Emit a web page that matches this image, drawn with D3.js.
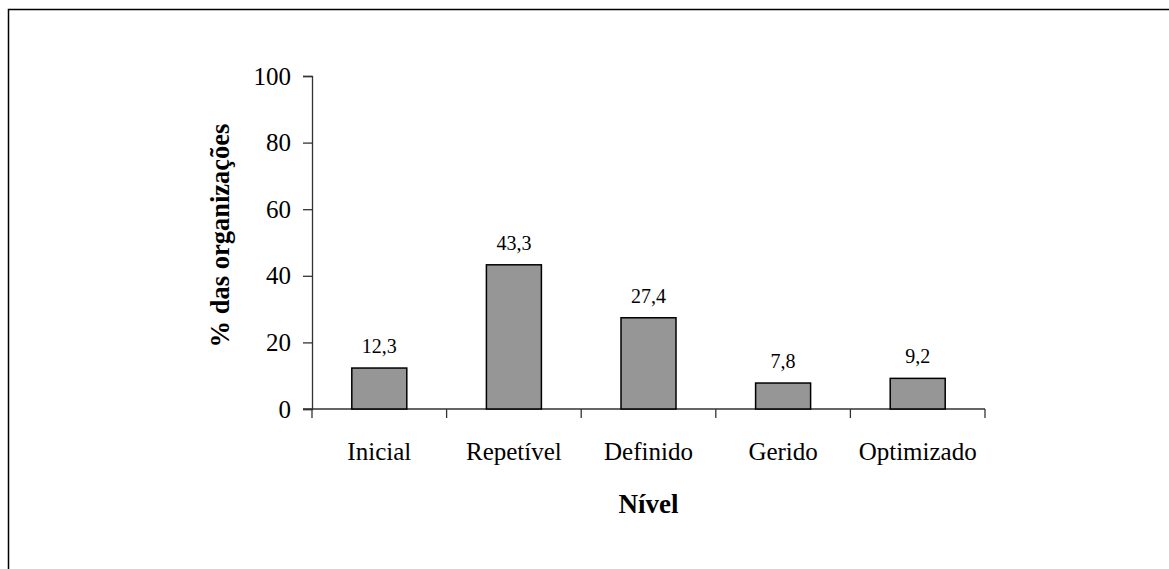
<!DOCTYPE html>
<html>
<head>
<meta charset="utf-8">
<script src="https://cdn.jsdelivr.net/npm/d3@7"></script>
<style>
  body { margin: 0; background: #fff; }
  svg text { font-family: "Liberation Serif", "Times New Roman", serif; fill: #000; }
</style>
</head>
<body>
<svg id="chart" width="1169" height="569"></svg>
<script>
// data
var niveis = ["Inicial", "Repetível", "Definido", "Gerido", "Optimizado"];
var percentagens = [12.3, 43.3, 27.4, 7.8, 9.2];
var yTicks = [0, 20, 40, 60, 80, 100];

var chartDim = {left: 312, right: 985, top: 76, bottom: 409};

var svg = d3.select("#chart");

// frame (only left and top edges are visible)
svg.append("path")
  .attr("d", "M8.5,569 L8.5,9.5 L1169,9.5")
  .attr("fill", "none")
  .attr("stroke", "#000")
  .attr("stroke-width", 1.5);

var xScale = d3.scaleBand()
  .domain(niveis)
  .range([chartDim.left, chartDim.right]);

var yScale = d3.scaleLinear()
  .domain([0, 100])
  .range([chartDim.bottom, chartDim.top]);

// ##############################
// y axis
var yAxis = svg.append("g")
  .attr("transform", `translate(${chartDim.left},0)`)
  .call(d3.axisLeft(yScale).tickValues(yTicks).tickSize(9).tickPadding(12).tickFormat(d3.format("d")));

yAxis.select(".domain").attr("stroke", "#333").attr("stroke-width", 1.3);
yAxis.selectAll(".tick line").attr("stroke", "#333").attr("stroke-width", 1.3);
yAxis.selectAll("text")
  .style("font-size", "25px")
  .attr("font-family", null);

// x axis: ticks sit on the band edges
var xAxis = svg.append("g")
  .attr("transform", `translate(0,${chartDim.bottom})`);

xAxis.append("line")
  .attr("x1", chartDim.left - 9).attr("x2", chartDim.right)
  .attr("stroke", "#333").attr("stroke-width", 1.3);

var edges = niveis.map(d => xScale(d)).concat([chartDim.right]);
xAxis.selectAll("line.edge")
  .data(edges)
  .join("line")
    .attr("class", "edge")
    .attr("x1", d => d).attr("x2", d => d)
    .attr("y1", 0).attr("y2", 9)
    .attr("stroke", "#333").attr("stroke-width", 1.3);

xAxis.selectAll("text.cat")
  .data(niveis)
  .join("text")
    .attr("class", "cat")
    .attr("x", d => xScale(d) + xScale.bandwidth() / 2)
    .attr("y", 51)
    .attr("text-anchor", "middle")
    .style("font-size", "25px")
    .text(d => d);

// ##############################
// bars
var barW = 55;
svg.selectAll("rect.bar")
  .data(percentagens)
  .join("rect")
    .attr("class", "bar")
    .attr("x", (d, i) => xScale(niveis[i]) + xScale.bandwidth() / 2 - barW / 2)
    .attr("y", d => yScale(d))
    .attr("width", barW)
    .attr("height", d => yScale(0) - yScale(d))
    .attr("fill", "#969696")
    .attr("stroke", "#000")
    .attr("stroke-width", 1.5);

svg.selectAll("text.val")
  .data(percentagens)
  .join("text")
    .attr("class", "val")
    .attr("x", (d, i) => xScale(niveis[i]) + xScale.bandwidth() / 2)
    .attr("y", d => yScale(d) - 15)
    .attr("text-anchor", "middle")
    .style("font-size", "20px")
    .text(d => d3.format(".1f")(d).replace(".", ","));

// ##############################
// axis titles
svg.append("text")
  .attr("x", (chartDim.left + chartDim.right) / 2)
  .attr("y", 513)
  .attr("text-anchor", "middle")
  .style("font-size", "27px")
  .style("font-weight", "bold")
  .text("Nível");

svg.append("text")
  .attr("transform", `translate(229,${(chartDim.top + chartDim.bottom) / 2 - 7}) rotate(-90)`)
  .attr("text-anchor", "middle")
  .style("font-size", "26.5px")
  .style("font-weight", "bold")
  .text("% das organizações");
</script>
</body>
</html>
